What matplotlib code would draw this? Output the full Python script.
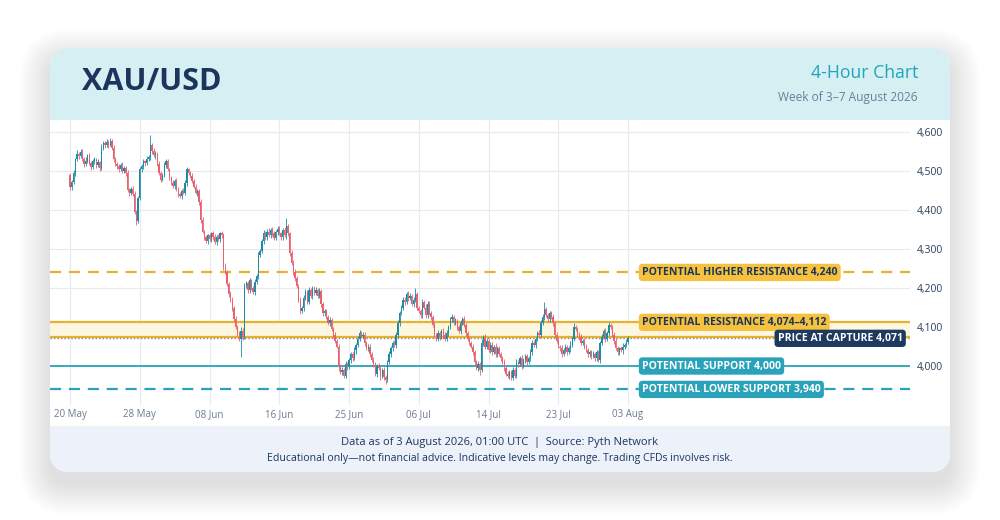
import matplotlib
matplotlib.use("Agg")
import matplotlib.pyplot as plt
from matplotlib.patches import FancyBboxPatch, Rectangle
import numpy as np

plt.rcParams['font.family'] = ['Open Sans', 'DejaVu Sans']

# ---------------- data ----------------
first_open = 4490
closes = [
    4458, 4472, 4496, 4530, 4545, 4538, 4550, 4532, 4518, 4527,
    4541, 4520, 4510, 4525, 4530, 4515, 4522, 4508, 4560, 4572,
    4566, 4575, 4568, 4578, 4560, 4530, 4518, 4512, 4505, 4515,
    4500, 4508, 4495, 4452, 4445, 4455, 4440, 4395, 4372, 4430,
    4505, 4512, 4525, 4520, 4530, 4535, 4568, 4552, 4540, 4545,
    4518, 4495, 4478, 4490, 4515, 4525, 4505, 4482, 4470, 4462,
    4475, 4455, 4440, 4435, 4450, 4445, 4470, 4505, 4495, 4488,
    4475, 4460, 4445, 4450, 4420, 4375, 4345, 4330, 4320, 4335,
    4325, 4340, 4330, 4318, 4332, 4325, 4340, 4336, 4255, 4240,
    4210, 4185, 4170, 4150, 4120, 4100, 4085, 4070, 4090, 4075,
    4205, 4212, 4195, 4220, 4200, 4190, 4215, 4230, 4285, 4295,
    4320, 4340, 4330, 4345, 4335, 4350, 4340, 4328, 4345, 4352,
    4340, 4330, 4348, 4335, 4358, 4340, 4290, 4265, 4240, 4225,
    4205, 4170, 4140, 4150, 4175, 4190, 4165, 4195, 4180, 4200,
    4188, 4195, 4180, 4192, 4160, 4135, 4140, 4125, 4110, 4118,
    4095, 4080, 4065, 4050, 4000, 3985, 3990, 3975, 4005, 3998,
    4015, 4030, 4020, 4040, 4055, 4070, 4085, 4078, 4080, 4060,
    4045, 4050, 4030, 4015, 4005, 3980, 4000, 3995, 3975, 3990,
    3972, 3965, 4010, 4030, 4045, 4060, 4055, 4080, 4110, 4135,
    4150, 4170, 4165, 4185, 4175, 4180, 4160, 4170, 4185, 4150,
    4140, 4130, 4165, 4150, 4130, 4160, 4135, 4125, 4105, 4080,
    4070, 4085, 4075, 4090, 4080, 4070, 4085, 4100, 4120, 4125,
    4110, 4115, 4100, 4090, 4110, 4120, 4105, 4085, 4070, 4060,
    4050, 4035, 4010, 3995, 4005, 3990, 4060, 4075, 4050, 4065,
    4040, 4055, 4035, 4050, 4030, 4045, 4030, 4020, 4010, 3995,
    3980, 3975, 3985, 3970, 3990, 3975, 4010, 4005, 4020, 4000,
    4015, 4025, 4010, 4020, 4035, 4060, 4055, 4070, 4085, 4080,
    4110, 4125, 4145, 4130, 4120, 4135, 4125, 4110, 4080, 4065,
    4050, 4045, 4030, 4040, 4050, 4035, 4045, 4055, 4070, 4100,
    4095, 4080, 4075, 4060, 4065, 4050, 4040, 4030, 4035, 4025,
    4030, 4020, 4035, 4015, 4060, 4075, 4090, 4070, 4085, 4105,
    4100, 4080, 4065, 4045, 4035, 4045, 4040, 4050, 4055, 4062, 4071,
]
wick_up = [
    6, 5, 8, 4, 9, 5, 7, 6, 5, 8, 4, 6, 7, 5, 6, 4, 8, 5, 9, 6,
    5, 7, 4, 8, 5, 6, 7, 4, 6, 5, 8, 5, 6, 7, 4, 5, 6, 8, 5, 7,
    6, 5, 7, 4, 8, 6, 24, 5, 7, 6, 5, 8, 4, 6, 7, 5, 6, 4, 5, 7,
    5, 6, 4, 7, 5, 6, 8, 5, 4, 6, 7, 5, 6, 4, 5, 8, 6, 5, 7, 4,
    6, 5, 7, 8, 5, 6, 4, 7, 5, 8, 6, 5, 7, 6, 4, 8, 5, 6, 9, 7,
    8, 6, 5, 7, 4, 6, 8, 5, 7, 6, 5, 9, 6, 7, 8, 5, 6, 7, 5, 6,
    7, 5, 6, 8, 22, 6, 5, 7, 6, 8, 5, 6, 7, 5, 6, 8, 5, 7, 6, 5,
    6, 7, 5, 8, 6, 5, 7, 6, 5, 8, 6, 5, 7, 4, 6, 5, 7, 6, 8, 5,
    6, 5, 7, 8, 5, 6, 7, 5, 6, 8, 5, 7, 6, 5, 8, 6, 5, 7, 6, 5,
    7, 6, 5, 8, 6, 5, 7, 6, 8, 5, 7, 6, 8, 5, 7, 6, 5, 8, 15, 6,
    5, 7, 6, 5, 8, 6, 7, 5, 6, 8, 5, 7, 6, 5, 8, 6, 7, 5, 6, 8,
    5, 7, 6, 5, 8, 6, 7, 5, 6, 8, 5, 7, 6, 5, 8, 6, 10, 5, 6, 8,
    5, 7, 6, 5, 8, 6, 7, 5, 6, 8, 5, 7, 6, 5, 8, 6, 7, 5, 6, 8,
    5, 7, 6, 5, 8, 6, 7, 5, 6, 8, 7, 9, 20, 6, 7, 5, 6, 8, 5, 7,
    6, 5, 8, 6, 7, 5, 6, 8, 5, 10, 6, 5, 7, 6, 5, 8, 6, 7, 5, 6,
    8, 5, 7, 6, 5, 8, 6, 7, 5, 7, 6, 5, 8, 6, 7, 5, 6, 8, 5, 7, 6,
]
wick_dn = [
    7, 6, 5, 8, 4, 6, 5, 7, 8, 5, 6, 4, 7, 5, 8, 6, 5, 7, 4, 6,
    6, 5, 8, 4, 6, 7, 5, 6, 8, 5, 4, 6, 7, 5, 8, 6, 5, 4, 10, 6,
    5, 8, 6, 7, 4, 5, 6, 7, 5, 8, 6, 5, 7, 4, 6, 8, 5, 6, 7, 5,
    8, 5, 6, 4, 7, 5, 6, 8, 5, 7, 6, 4, 5, 8, 6, 7, 5, 6, 4, 7,
    5, 6, 8, 4, 7, 5, 6, 7, 8, 5, 6, 7, 5, 8, 6, 5, 7, 6, 47, 8,
    6, 5, 7, 8, 5, 6, 7, 5, 8, 6, 5, 7, 6, 8, 5, 6, 7, 5, 6, 8,
    5, 7, 6, 5, 8, 6, 7, 5, 6, 8, 5, 7, 6, 5, 8, 6, 7, 5, 6, 8,
    5, 7, 6, 5, 8, 6, 7, 5, 6, 8, 5, 7, 6, 5, 12, 6, 7, 5, 6, 8,
    5, 7, 6, 5, 8, 6, 7, 5, 6, 8, 5, 7, 6, 5, 8, 6, 7, 5, 10, 6,
    8, 10, 6, 5, 7, 6, 5, 8, 6, 7, 5, 6, 8, 5, 7, 6, 5, 8, 6, 7,
    5, 6, 8, 5, 7, 6, 5, 8, 6, 7, 5, 6, 8, 5, 7, 6, 5, 8, 6, 7,
    5, 6, 8, 5, 7, 6, 5, 8, 6, 7, 5, 6, 8, 5, 7, 12, 5, 8, 6, 7,
    5, 6, 8, 5, 7, 6, 5, 8, 6, 7, 5, 6, 8, 5, 7, 6, 5, 8, 6, 7,
    5, 6, 8, 5, 7, 6, 5, 8, 6, 7, 5, 6, 8, 5, 7, 6, 5, 8, 6, 7,
    5, 6, 8, 5, 7, 6, 5, 8, 6, 7, 5, 6, 8, 5, 7, 6, 5, 8, 6, 7,
    5, 6, 8, 5, 7, 6, 5, 8, 6, 7, 5, 6, 8, 5, 7, 6, 5, 8, 6, 7, 5,
]
tick_idx = [0, 40, 80, 120, 160, 200, 240, 280, 320]
tick_labels = ["20 May", "28 May", "08 Jun", "16 Jun", "25 Jun",
               "06 Jul", "14 Jul", "23 Jul", "03 Aug"]
y_ticks = [4000, 4100, 4200, 4300, 4400, 4500, 4600]

higher_res = 4240
res_low, res_high = 4074, 4112
price_capture = 4071
support = 4000
lower_support = 3940

# ---------------- colours ----------------
UP = '#1f8aa5'
DN = '#e8616f'
GOLD = '#e9b22c'
GOLD_BOX = '#f6c23e'
TEAL = '#2aa3ba'
NAVY = '#1b365d'

fig = plt.figure(figsize=(10, 5.2), dpi=100)

# background / card in pixel coordinates
bg = fig.add_axes([0, 0, 1, 1])
bg.set_xlim(0, 1000)
bg.set_ylim(520, 0)
bg.axis('off')
for k in range(1, 32):
    bg.add_patch(FancyBboxPatch((50 - k, 48 - k + 12), 900 + 2 * k, 424 + 2 * k,
                                boxstyle=f"round,pad=0,rounding_size={20 + k}",
                                fc='black', ec='none', alpha=0.0022))
card = FancyBboxPatch((50, 48), 900, 424, boxstyle="round,pad=0,rounding_size=20",
                      fc='white', ec='none')
bg.add_patch(card)
hdr = Rectangle((50, 48), 900, 72, fc='#d6eff3', ec='none')
bg.add_patch(hdr)
hdr.set_clip_path(card)
ftr = Rectangle((50, 426), 900, 46, fc='#edf2fa', ec='none')
bg.add_patch(ftr)
ftr.set_clip_path(card)

bg.text(82, 82, "XAU/USD", fontsize=22, fontweight='bold', color=NAVY,
        ha='left', va='center')
bg.text(918, 73, "4-Hour Chart", fontsize=12.7, color='#1fa6b8', ha='right', va='center')
bg.text(918, 98, "Week of 3–7 August 2026", fontsize=8.6, color='#6b7f99',
        ha='right', va='center')
bg.text(500, 442, "Data as of 3 August 2026, 01:00 UTC  |  Source: Pyth Network",
        fontsize=8, color=NAVY, ha='center', va='center')
bg.text(500, 458, "Educational only—not financial advice. Indicative levels may change. "
        "Trading CFDs involves risk.", fontsize=7.6, color=NAVY, ha='center', va='center')

# ---------------- chart ----------------
ax = fig.add_axes([0.05, 1 - 405 / 520, 0.86, 285 / 520])
ax.set_facecolor('none')
for s in ax.spines.values():
    s.set_visible(False)

n = len(closes)
idx = np.arange(n)
c = np.array(closes, dtype=float)
o = np.concatenate([[first_open], c[:-1]])
hi = np.maximum(o, c) + np.array(wick_up)
lo = np.minimum(o, c) - np.array(wick_dn)
up = c >= o
cols = np.where(up, UP, DN)

ax.vlines(idx, lo, hi, colors=cols, lw=0.6, zorder=3)
body_h = np.maximum(np.abs(c - o), 1.0)
ax.bar(idx, body_h, bottom=np.minimum(o, c), width=0.75, color=cols,
       edgecolor='none', zorder=4)

ax.set_xlim(-11.5, 481.7)
ax.set_ylim(3900, 4631)

ax.set_xticks(tick_idx)
ax.set_xticklabels(tick_labels)
ax.set_yticks(y_ticks)
ax.set_yticklabels([f"{v:,}" for v in y_ticks])
ax.yaxis.tick_right()
ax.tick_params(axis='x', length=0, pad=3, labelsize=7, labelcolor='#6b7b8f')
ax.tick_params(axis='y', length=0, pad=5, labelsize=7.5, labelcolor='#2c3e5c')
ax.grid(True, color='#e6eaf1', lw=0.8, zorder=0)
ax.set_axisbelow(True)

# levels
ax.axhspan(res_low, res_high, color='#fdf6e1', zorder=1, lw=0)
ax.axhline(higher_res, color=GOLD, lw=1.6, ls=(0, (5, 3.5)), zorder=2)
ax.axhline(res_high, color=GOLD, lw=1.6, zorder=2)
ax.axhline(res_low, color=GOLD, lw=1.6, zorder=2)
ax.axhline(price_capture, color='#7d889a', lw=1.0, ls=(0, (1, 1.5)), zorder=2.5)
ax.axhline(support, color=TEAL, lw=1.3, zorder=2)
ax.axhline(lower_support, color=TEAL, lw=1.6, ls=(0, (5, 3.5)), zorder=2)

lx = 328
def lab(y, s, fc, tc, x=lx, ha='left'):
    ax.text(x, y, s, fontsize=7.6, fontweight='bold', color=tc, ha=ha, va='center',
            zorder=6,
            bbox=dict(boxstyle='round,pad=0.3,rounding_size=0.35', fc=fc, ec='none'))

lab(higher_res, f"POTENTIAL HIGHER RESISTANCE {higher_res:,}", GOLD_BOX, NAVY)
lab(res_high, f"POTENTIAL RESISTANCE {res_low:,}–{res_high:,}", GOLD_BOX, NAVY)
lab(price_capture, f"PRICE AT CAPTURE {price_capture:,}", '#1e3a5f', 'white',
    x=477.5, ha='right')
lab(support, f"POTENTIAL SUPPORT {support:,}", TEAL, 'white')
lab(lower_support, f"POTENTIAL LOWER SUPPORT {lower_support:,}", TEAL, 'white')

fig.savefig("out.png", dpi=100)
